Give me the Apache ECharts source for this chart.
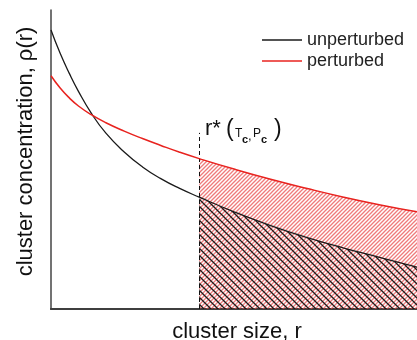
<!DOCTYPE html>
<html><head><meta charset="utf-8">
<script src="https://cdn.jsdelivr.net/npm/echarts@6/dist/echarts.min.js"></script>
<style>html,body{margin:0;padding:0;background:#fff}#c{width:417px;height:340px}</style>
</head><body><div id="c"></div>
<script>
// cluster size (relative units, 0..1 across plot)
const clusterSize = [0, 0.025, 0.05, 0.075, 0.11, 0.15, 0.2, 0.25, 0.3, 0.35, 0.405, 0.5, 0.6, 0.7, 0.8, 0.9, 1.0];
const unperturbed = [93.3, 85.5, 78.8, 72.8, 65.5, 58.8, 52.5, 47.5, 43.6, 40.4, 37.4, 32.5, 27.9, 23.9, 20.4, 17.2, 14.0];
const perturbed   = [78.0, 73.9, 70.6, 67.9, 65.0, 62.3, 59.5, 57.0, 54.7, 52.5, 50.3, 46.8, 43.4, 40.3, 37.4, 34.8, 32.5];
const rStar = 0.405;
const rStarLineTop = 58.9;
const seriesNames = ['unperturbed', 'perturbed'];

function hatch(size, color, dir, lw) {
  const c = document.createElement('canvas');
  c.width = size; c.height = size;
  const g = c.getContext('2d');
  g.strokeStyle = color; g.lineWidth = lw;
  g.beginPath();
  if (dir === 'back') { // "\"
    for (let k = -2; k <= 2; k++) { g.moveTo(k * size - size, -size); g.lineTo(k * size + 2 * size, 2 * size); }
  } else { // "/"
    for (let k = -2; k <= 2; k++) { g.moveTo(k * size - size, 2 * size); g.lineTo(k * size + 2 * size, -size); }
  }
  g.stroke();
  return c.toDataURL();
}

const pairs = (ys) => clusterSize.map((x, i) => [x, ys[i]]);
const tail = (ys) => clusterSize.map((x, i) => [x, ys[i]]).filter(p => p[0] >= rStar);

const chart = echarts.init(document.getElementById('c'), null, {renderer: 'canvas'});
const redHatch = hatch(4, 'rgba(232,60,60,0.68)', 'fwd', 1.3);
const blackHatch = hatch(7, 'rgba(20,20,20,0.95)', 'back', 1.3);
const SM = 0.5;

chart.setOption({
  animation: false,
  grid: {left: 51, top: 10, right: 0, bottom: 31, containLabel: false, outerBoundsMode: 'none'},
  legend: {
    data: seriesNames.map(n => ({name: n, icon: 'rect'})), orient: 'vertical', left: 257, top: 26,
    itemWidth: 40, itemHeight: 1.5, itemGap: 3,
    textStyle: {fontSize: 18, color: '#222', fontFamily: 'Liberation Sans'}
  },
  xAxis: [{
    type: 'value', min: 0, max: 1,
    name: 'cluster size, r', nameLocation: 'middle', nameGap: 12,
    nameTextStyle: {fontSize: 22, color: '#111', fontFamily: 'Liberation Sans', verticalAlign: 'top', padding: [0, 0, 0, 6]},
    axisLine: {show: true, onZero: false, lineStyle: {color: '#333', width: 2}},
    axisTick: {show: false}, axisLabel: {show: false}, splitLine: {show: false}
  }, {
    type: 'value', min: 0, max: 1, position: 'top',
    axisLine: {show: true, lineStyle: {color: '#444', width: 1.5}},
    axisTick: {show: false}, axisLabel: {show: false}, splitLine: {show: false}
  }],
  yAxis: {
    type: 'value', min: 0, max: 100,
    name: 'cluster concentration, ρ(r)', nameLocation: 'middle', nameGap: 14,
    nameTextStyle: {fontSize: 22, color: '#111', fontFamily: 'Liberation Sans', padding: [0, 0, 0, 16]},
    axisLine: {show: true, lineStyle: {color: '#444', width: 1.5}},
    axisTick: {show: false}, axisLabel: {show: false}, splitLine: {show: false}
  },
  series: [
    {
      name: 'redHatch', type: 'line', data: tail(perturbed), smooth: SM, symbol: 'none',
      lineStyle: {opacity: 0}, areaStyle: {color: {image: redHatch, repeat: 'repeat'}, opacity: 1}, z: 1, silent: true
    },
    {
      name: 'blackHatch', type: 'line', data: tail(unperturbed), smooth: SM, symbol: 'none',
      lineStyle: {opacity: 0}, areaStyle: {color: {image: blackHatch, repeat: 'repeat'}, opacity: 1}, z: 2, silent: true,
      markLine: {
        silent: true, symbol: 'none', label: {show: false},
        lineStyle: {type: [4, 3], color: '#111', width: 1},
        data: [[{coord: [rStar, 0]}, {coord: [rStar, rStarLineTop]}]]
      }
    },
    {
      name: 'unperturbed', type: 'line', data: pairs(unperturbed), smooth: SM, symbol: 'none',
      lineStyle: {color: '#1a1a1a', width: 1.3}, itemStyle: {color: '#1a1a1a'}, z: 5
    },
    {
      name: 'perturbed', type: 'line', data: pairs(perturbed), smooth: SM, symbol: 'none',
      lineStyle: {color: '#e8231f', width: 1.5}, itemStyle: {color: '#e8231f'}, z: 5
    }
  ],
  graphic: [
    {type: 'text', left: 205, top: 118, style: {text: 'r*', fontSize: 22, fill: '#111', fontFamily: 'Liberation Sans'}},
    {type: 'text', left: 226, top: 118, style: {text: '(', fontSize: 23, fill: '#111', fontFamily: 'Liberation Sans'}},
    {type: 'text', left: 235, top: 128, style: {text: 'T', fontSize: 12, fill: '#111', fontFamily: 'Liberation Sans'}},
    {type: 'text', left: 242, top: 134, style: {text: 'c', fontSize: 11, fill: '#111', fontFamily: 'Liberation Sans', fontWeight: 'bold'}},
    {type: 'text', left: 248, top: 130, style: {text: ',', fontSize: 13, fill: '#111', fontFamily: 'Liberation Sans'}},
    {type: 'text', left: 253, top: 128, style: {text: 'P', fontSize: 12, fill: '#111', fontFamily: 'Liberation Sans'}},
    {type: 'text', left: 261, top: 134, style: {text: 'c', fontSize: 11, fill: '#111', fontFamily: 'Liberation Sans', fontWeight: 'bold'}},
    {type: 'text', left: 274, top: 118, style: {text: ')', fontSize: 23, fill: '#111', fontFamily: 'Liberation Sans'}}
  ]
});
</script></body></html>
